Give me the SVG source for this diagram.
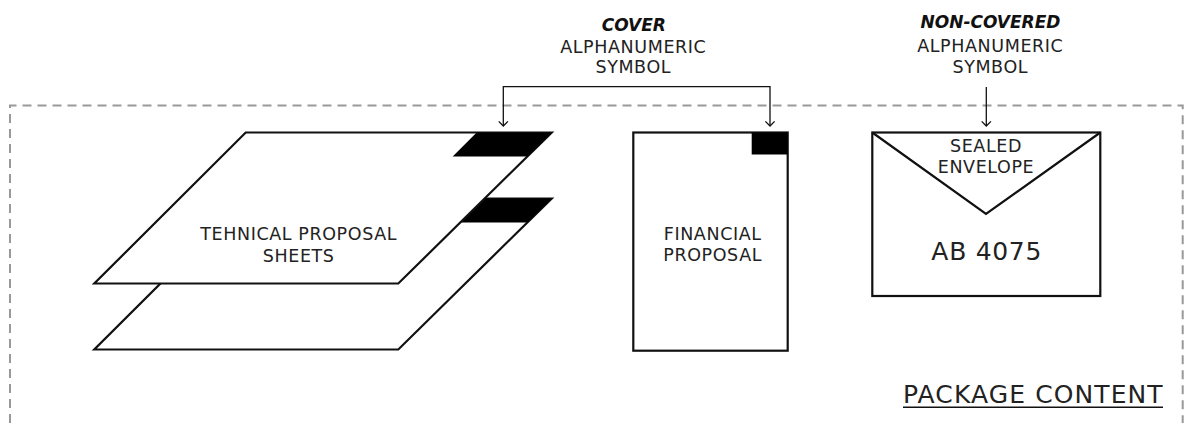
<svg xmlns="http://www.w3.org/2000/svg" width="1184" height="423" viewBox="0 0 1184 423">
  <style>
    .shape { fill: #ffffff; stroke: #111111; stroke-width: 2.2; stroke-linejoin: miter; }
    .tab { fill: #000000; stroke: none; }
    .lbl { font-family: "DejaVu Sans", "Liberation Sans", sans-serif; font-size: 17.5px; letter-spacing: 0.6px; fill: #222222; text-anchor: middle; }
    .big { font-family: "DejaVu Sans", "Liberation Sans", sans-serif; font-size: 25px; letter-spacing: 0.7px; fill: #222222; }
    .em { font-family: "DejaVu Sans", "Liberation Sans", sans-serif; font-size: 17px; font-weight: bold; font-style: italic; fill: #111111; text-anchor: middle; }
    .wire { fill: none; stroke: #111111; stroke-width: 1.3; }
    .frame { fill: none; stroke: #999999; stroke-width: 2; stroke-dasharray: 9 6; }
  </style>
  <defs>
    <marker id="arrow" markerUnits="userSpaceOnUse" markerWidth="12" markerHeight="12" refX="0" refY="0" viewBox="-6 -6 12 12" orient="auto-start-reverse" overflow="visible">
      <path d="M-4.6,-4.6 L0,0 L-4.6,4.6" fill="none" stroke="#111111" stroke-width="1.3"/>
    </marker>
  </defs>

  <!-- package boundary -->
  <g id="package">
    <path class="frame" d="M10,423 V105.5 H1182.7 V423"/>
    <text class="big" x="903" y="403" style="letter-spacing:1.1px">PACKAGE CONTENT</text>
    <line x1="903" y1="407.3" x2="1163" y2="407.3" stroke="#111111" stroke-width="1.6"/>
  </g>

  <!-- stacked technical sheets -->
  <g id="technical-sheets">
    <polygon class="shape" points="245.7,198.5 551.7,198.5 398.3,349.5 94.3,349.5"/>
    <polygon class="tab" points="476.7,198.5 551.7,198.5 527.7,222.5 452.7,222.5"/>
    <polygon class="shape" points="245.7,132.5 551.7,132.5 398.3,283.5 94.3,283.5"/>
    <polygon class="tab" points="476.7,132.5 551.7,132.5 527.7,156.5 452.7,156.5"/>
    <text class="lbl" x="298.7" y="240">TEHNICAL PROPOSAL</text>
    <text class="lbl" x="298.7" y="261.7">SHEETS</text>
  </g>

  <!-- financial proposal -->
  <g id="financial-proposal">
    <rect class="shape" x="633.3" y="132.5" width="154.4" height="218.2"/>
    <rect class="tab" x="751.7" y="132.5" width="36" height="22"/>
    <text class="lbl" x="712.7" y="240">FINANCIAL</text>
    <text class="lbl" x="712.7" y="260.5">PROPOSAL</text>
  </g>

  <!-- sealed envelope -->
  <g id="sealed-envelope">
    <rect class="shape" x="872.3" y="132.5" width="228" height="163.5"/>
    <polyline class="shape" points="872.3,132.5 986,214 1100.3,132.5" style="fill:none"/>
    <text class="lbl" x="986" y="152.3">SEALED</text>
    <text class="lbl" x="986" y="173.3">ENVELOPE</text>
    <text class="big" x="986.7" y="260" text-anchor="middle">AB 4075</text>
  </g>

  <!-- callout labels -->
  <g id="cover-label">
    <text class="em" x="633.8" y="30.6">COVER</text>
    <text class="lbl" x="633.3" y="52.7">ALPHANUMERIC</text>
    <text class="lbl" x="633.3" y="73.3">SYMBOL</text>
  </g>
  <g id="non-covered-label">
    <text class="em" x="990.5" y="28">NON-COVERED</text>
    <text class="lbl" x="990.3" y="51.7">ALPHANUMERIC</text>
    <text class="lbl" x="990.3" y="72.7">SYMBOL</text>
  </g>

  <!-- connectors -->
  <g id="connectors">
    <path class="wire" d="M503.3,126 V86.7 H770 V126" marker-start="url(#arrow)" marker-end="url(#arrow)"/>
    <path class="wire" d="M986.3,87 V126" marker-end="url(#arrow)"/>
  </g>
</svg>
